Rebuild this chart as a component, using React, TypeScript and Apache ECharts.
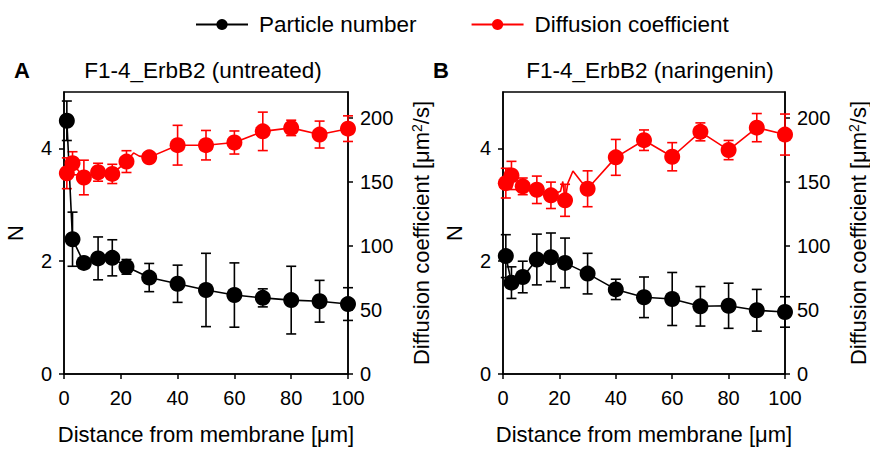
import React, { useEffect, useRef } from "react";
import * as echarts from "echarts";

// ---------- data ----------
const distance = [1, 3, 7, 12, 17, 22, 30, 40, 50, 60, 70, 80, 90, 100];

const particleA = [4.49, 2.39, 1.97, 2.05, 2.06, 1.9, 1.71, 1.6, 1.49, 1.4, 1.35, 1.31, 1.29, 1.24];
const particleAErr = [0.35, 0.48, 0.05, 0.38, 0.32, 0.13, 0.25, 0.33, 0.65, 0.57, 0.16, 0.6, 0.37, 0.29];
const diffusionA = [156.6, 164.4, 153.3, 157.4, 156.1, 165.7, 169.0, 178.5, 178.5, 180.6, 189.3, 192.0, 186.8, 191.4];
const diffusionAErr = [12, 9, 13.5, 7, 7.5, 8.5, 3, 15.5, 11.5, 9, 15, 6, 10.5, 10];
const diffusionAExtra = [[24.5, 172.5], [26.5, 170]];

const particleB = [2.09, 1.62, 1.72, 2.03, 2.07, 1.97, 1.78, 1.5, 1.36, 1.33, 1.2, 1.21, 1.13, 1.1];
const particleBErr = [0.38, 0.28, 0.28, 0.45, 0.43, 0.44, 0.36, 0.18, 0.36, 0.47, 0.35, 0.4, 0.37, 0.27];
const diffusionB = [148.9, 154.9, 146.4, 143.7, 139.4, 135.5, 144.5, 169.0, 182.4, 169.5, 188.9, 174.7, 192.2, 186.8];
const diffusionBErr = [11.6, 11, 6.5, 10.7, 10.3, 12.5, 14, 14, 8, 11, 7, 7.5, 11, 16];
const diffusionBExtra = [[20.4, 142.5], [21.2, 150.2], [23, 148.9], [24.8, 158.4], [27.7, 150.2]];

const nTicks = [0, 2, 4];
const dTicks = [0, 50, 100, 150, 200];
const panelTitles = ["F1-4_ErbB2 (untreated)", "F1-4_ErbB2 (naringenin)"];
const panelLetters = ["A", "B"];
const legendNames = ["Particle number", "Diffusion coefficient"];
const xAxisTitle = "Distance from membrane [\u03bcm]";

// ---------- helpers ----------
const FONT = "'Liberation Sans', Arial, sans-serif";
const BLACK = "#000000";
const RED = "#ff0000";

function lineData(xs: number[], ys: number[], extra: number[][] = []) {
  const pts: any[] = xs.map((x, i) => ({ value: [x, ys[i]] }));
  extra.forEach((p) => pts.push({ value: [p[0], p[1]], symbol: "none" }));
  pts.sort((a, b) => a.value[0] - b.value[0]);
  return pts;
}

function errData(xs: number[], ys: number[], es: number[]) {
  return xs.map((x, i) => [x, ys[i] - es[i], ys[i] + es[i]]);
}

function errSeries(data: number[][], color: string, xIdx: number, yIdx: number) {
  return {
    type: "custom",
    xAxisIndex: xIdx,
    yAxisIndex: yIdx,
    z: 1,
    silent: true,
    data,
    encode: { x: 0, y: [1, 2] },
    renderItem: (params: any, api: any) => {
      const x = api.value(0);
      const lo = api.coord([x, api.value(1)]);
      const hi = api.coord([x, api.value(2)]);
      const w = 5;
      const style = { stroke: color, lineWidth: 1.6 };
      return {
        type: "group",
        children: [
          { type: "line", shape: { x1: lo[0], y1: lo[1], x2: hi[0], y2: hi[1] }, style },
          { type: "line", shape: { x1: lo[0] - w, y1: lo[1], x2: lo[0] + w, y2: lo[1] }, style },
          { type: "line", shape: { x1: hi[0] - w, y1: hi[1], x2: hi[0] + w, y2: hi[1] }, style },
        ],
      };
    },
  };
}

function lineSeries(name: string, data: any[], color: string, xIdx: number, yIdx: number) {
  return {
    type: "line",
    name,
    xAxisIndex: xIdx,
    yAxisIndex: yIdx,
    z: 3,
    data,
    symbol: "circle",
    symbolSize: 16,
    showAllSymbol: true,
    lineStyle: { color, width: 1.6 },
    itemStyle: { color },
    emphasis: { disabled: true },
  };
}

const axisCommon = {
  axisLine: { show: true, onZero: false, lineStyle: { color: BLACK, width: 1.5 } },
  axisTick: { show: true, inside: false, length: 5, lineStyle: { color: BLACK, width: 1.5 } },
  splitLine: { show: false },
};

function xAxis(gridIndex: number) {
  return {
    type: "value",
    gridIndex,
    min: 0,
    max: 100,
    interval: 20,
    ...axisCommon,
    axisLabel: { color: BLACK, fontSize: 20, fontFamily: FONT, margin: 14 },
    name: xAxisTitle,
    nameLocation: "middle",
    nameGap: 49,
    nameTextStyle: { color: BLACK, fontSize: 22, fontFamily: FONT },
  };
}

function yLeft(gridIndex: number) {
  return {
    type: "value",
    gridIndex,
    position: "left",
    min: 0,
    max: 5,
    ...axisCommon,
    axisTick: { ...axisCommon.axisTick, customValues: nTicks },
    axisLabel: { color: BLACK, fontSize: 20, fontFamily: FONT, margin: 12, customValues: nTicks },
    name: "N",
    nameLocation: "middle",
    nameGap: 38,
    nameTextStyle: { color: BLACK, fontSize: 22, fontFamily: FONT },
  };
}

function yRight(gridIndex: number) {
  return {
    type: "value",
    gridIndex,
    position: "right",
    min: 0,
    max: 220,
    ...axisCommon,
    axisTick: { ...axisCommon.axisTick, customValues: dTicks },
    axisLabel: { color: BLACK, fontSize: 20, fontFamily: FONT, margin: 12, customValues: dTicks },
    name: "Diffusion coefficient [\u03bcm{sup|2}/s]",
    nameLocation: "middle",
    nameGap: 62,
    nameTextStyle: {
      color: BLACK,
      fontSize: 22,
      fontFamily: FONT,
      rich: {
        sup: { fontSize: 14, fontFamily: FONT, color: BLACK, verticalAlign: "top", lineHeight: 22 },
      },
    },
  };
}

export default function App() {
  const ref = useRef<HTMLDivElement>(null);
  useEffect(() => {
    if (!ref.current) return;
    const chart = echarts.init(ref.current, undefined, { renderer: "svg" });
    const gridBox = { show: true, borderColor: BLACK, borderWidth: 1.5, backgroundColor: "transparent" };
    chart.setOption({
      animation: false,
      backgroundColor: "#ffffff",
      textStyle: { fontFamily: FONT },
      legend: {
        data: legendNames,
        left: 190,
        top: 8,
        itemWidth: 52,
        itemHeight: 14,
        itemGap: 54,
        textStyle: { color: BLACK, fontSize: 22.5, fontFamily: FONT, padding: [0, 0, 0, 6] },
        selectedMode: false,
      },
      grid: [
        { left: 64, top: 92, width: 284, height: 286, ...gridBox },
        { left: 503, top: 92, width: 283, height: 286, ...gridBox },
      ],
      xAxis: [xAxis(0), xAxis(1)],
      yAxis: [yLeft(0), yRight(0), yLeft(1), yRight(1)],
      graphic: [
        { type: "text", x: 22, y: 70, style: { text: panelLetters[0], font: `bold 22px ${FONT}`, fill: BLACK, align: "center", verticalAlign: "middle" } },
        { type: "text", x: 203, y: 70, style: { text: panelTitles[0], font: `22.5px ${FONT}`, fill: BLACK, align: "center", verticalAlign: "middle" } },
        { type: "text", x: 441, y: 70, style: { text: panelLetters[1], font: `bold 22px ${FONT}`, fill: BLACK, align: "center", verticalAlign: "middle" } },
        { type: "text", x: 650, y: 70, style: { text: panelTitles[1], font: `22.5px ${FONT}`, fill: BLACK, align: "center", verticalAlign: "middle" } },
      ],
      series: [
        errSeries(errData(distance, particleA, particleAErr), BLACK, 0, 0),
        errSeries(errData(distance, diffusionA, diffusionAErr), RED, 0, 1),
        lineSeries(legendNames[0], lineData(distance, particleA), BLACK, 0, 0),
        lineSeries(legendNames[1], lineData(distance, diffusionA, diffusionAExtra), RED, 0, 1),
        errSeries(errData(distance, particleB, particleBErr), BLACK, 1, 2),
        errSeries(errData(distance, diffusionB, diffusionBErr), RED, 1, 3),
        lineSeries(legendNames[0], lineData(distance, particleB), BLACK, 1, 2),
        lineSeries(legendNames[1], lineData(distance, diffusionB, diffusionBExtra), RED, 1, 3),
      ],
    });
    return () => chart.dispose();
  }, []);
  return (
    <div
      ref={ref}
      style={{ position: "absolute", left: 0, top: 0, width: 870, height: 450, background: "#fff" }}
    />
  );
}
